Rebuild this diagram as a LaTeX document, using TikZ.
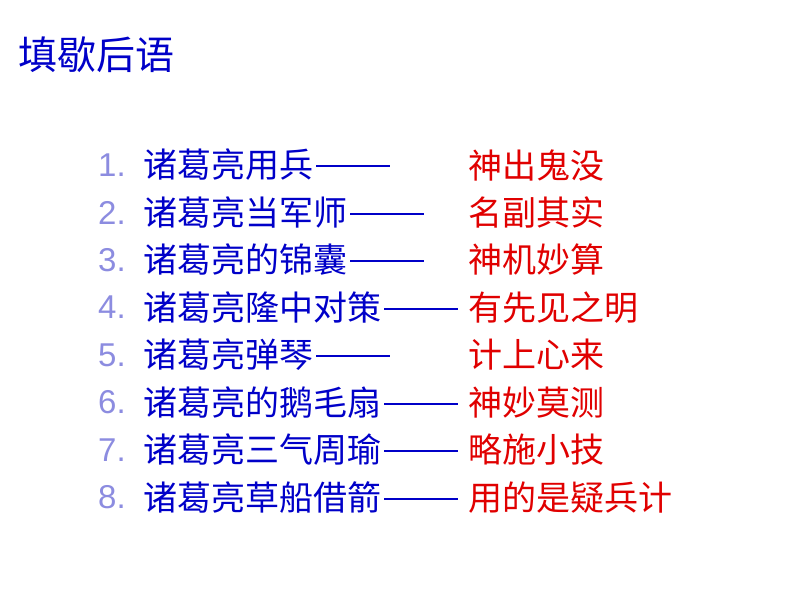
\documentclass[tikz,border=0pt]{standalone}
\usepackage{fontspec}
\setmainfont{Liberation Sans}
\newfontfamily\cjk{Noto Sans CJK SC}
\definecolor{numc}{HTML}{8C8CE0}
\definecolor{txtc}{HTML}{0000C8}
\definecolor{ansc}{HTML}{E00000}
\tikzset{
 num/.style={anchor=west,inner sep=0pt,text=numc,font=\fontsize{33}{33}\selectfont},
 txt/.style={anchor=west,inner sep=0pt,text=txtc,font=\cjk\fontsize{34}{34}\selectfont},
 ans/.style={anchor=west,inner sep=0pt,text=ansc,font=\cjk\fontsize{34}{34}\selectfont},
 dashline/.style={draw=txtc,line width=2pt},
}
\begin{document}
\begin{tikzpicture}[x=1pt,y=-1pt]
\useasboundingbox (0,0) rectangle (794,596);
\node[anchor=west,inner sep=0pt,text=txtc,font=\cjk\fontsize{39}{39}\selectfont] (title) at (18,55) {填歇后语};
\foreach \i/\t/\a in {1/诸葛亮用兵/神出鬼没,2/诸葛亮当军师/名副其实,3/诸葛亮的锦囊/神机妙算,4/诸葛亮隆中对策/有先见之明,5/诸葛亮弹琴/计上心来,6/诸葛亮的鹅毛扇/神妙莫测,7/诸葛亮三气周瑜/略施小技,8/诸葛亮草船借箭/用的是疑兵计}{
 \node[num] (n\i) at (98,{165+47.5*(\i-1)}) {\i.};
 \node[txt] (t\i) at (143,{165+47.5*(\i-1)}) {\t};
 \node[ans] (a\i) at (468,{165+47.5*(\i-1)}) {\a};
 \draw[dashline] ([xshift=3pt,yshift=-1pt]t\i.east) -- +(74,0);
}
\end{tikzpicture}
\end{document}
